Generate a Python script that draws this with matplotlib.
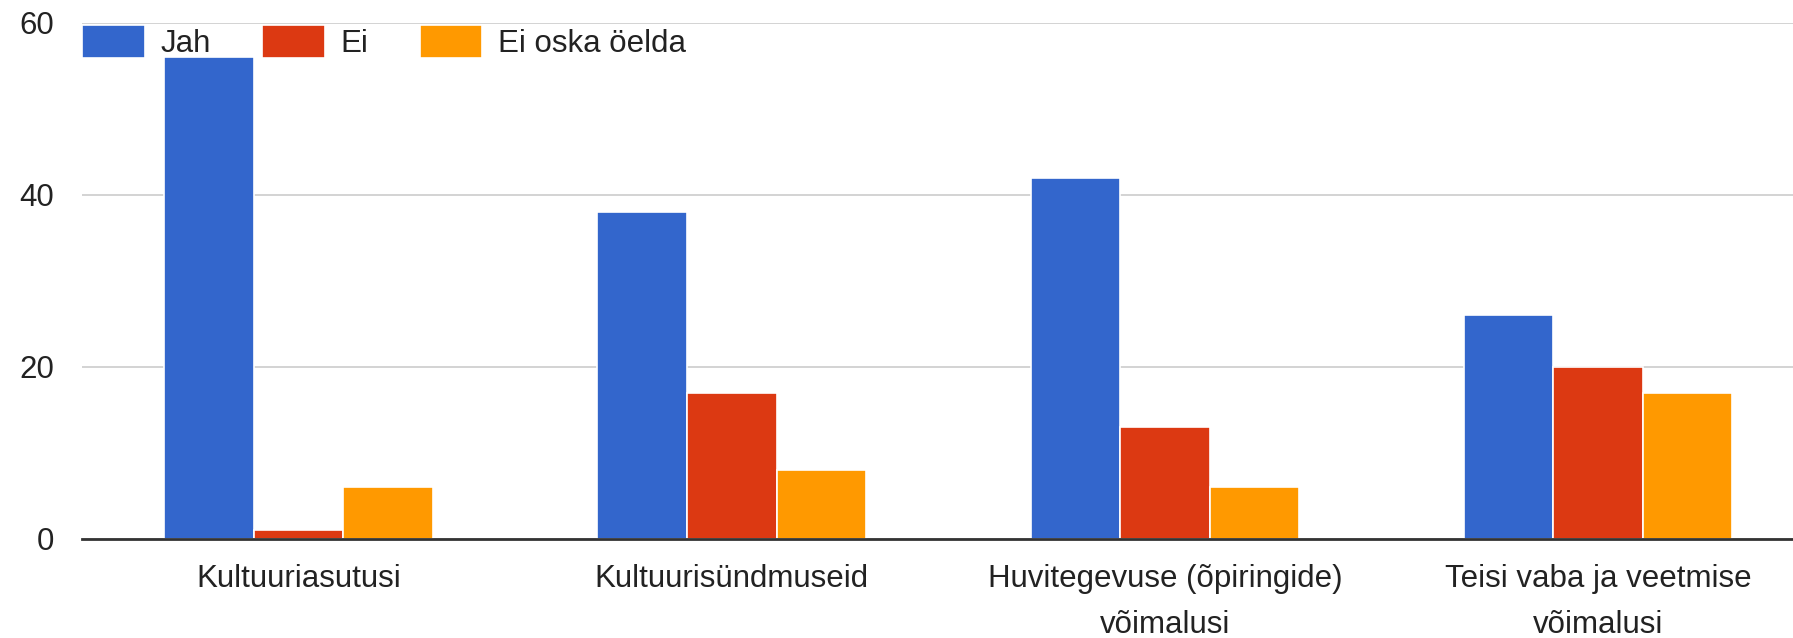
import matplotlib
matplotlib.use("Agg")
import matplotlib.pyplot as plt
import numpy as np

categories = ["Kultuuriasutusi", "Kultuurisündmuseid",
              "Huvitegevuse (õpiringide)\nvõimalusi",
              "Teisi vaba ja veetmise\nvõimalusi"]
series_names = ["Jah", "Ei", "Ei oska öelda"]
jah = [56, 38, 42, 26]
ei = [1, 17, 13, 20]
ei_oska = [6, 8, 6, 17]
colors = ["#3366cc", "#dc3912", "#ff9900"]
y_ticks = [0, 20, 40, 60]

plt.rcParams['font.family'] = ['Liberation Sans', 'DejaVu Sans']
FS = 22.5

fig = plt.figure(figsize=(17.93, 6.38), dpi=100)
ax = fig.add_axes([82/1793, 1 - 539/638, 1 - 82/1793, (539 - 23)/638])

x = np.arange(len(categories))
w = 0.2067
for i, (name, vals, c) in enumerate(zip(series_names, [jah, ei, ei_oska], colors)):
    ax.bar(x + (i - 1) * w, vals, width=w, color=c, edgecolor="white",
           linewidth=1.2, label=name, zorder=3)

ax.set_ylim(0, 60)
ax.set_xlim(-0.5, 3.45)
ax.set_yticks(y_ticks)
ax.set_yticklabels([str(t) for t in y_ticks], fontsize=FS, color="#222222")
ax.set_xticks(x)
ax.set_xticklabels(categories, fontsize=FS, color="#222222", linespacing=1.7)
ax.tick_params(axis="both", length=0)
ax.tick_params(axis="y", pad=20)
ax.tick_params(axis="x", pad=18)
ax.grid(axis="y", color="#cccccc", linewidth=1.2, zorder=0)
for s in ["top", "right", "left"]:
    ax.spines[s].set_visible(False)
ax.spines["bottom"].set_color("#333333")
ax.spines["bottom"].set_linewidth(2)
ax.spines["bottom"].set_zorder(4)

leg = ax.legend(loc="upper left", bbox_to_anchor=(0, 0.996), ncol=3,
                frameon=False, fontsize=FS, handlelength=2.0, handleheight=1.25,
                handletextpad=0.5, columnspacing=1.65, borderpad=0,
                borderaxespad=0)
for t in leg.get_texts():
    t.set_color("#222222")

fig.savefig("out.png", dpi=100, facecolor="white")
